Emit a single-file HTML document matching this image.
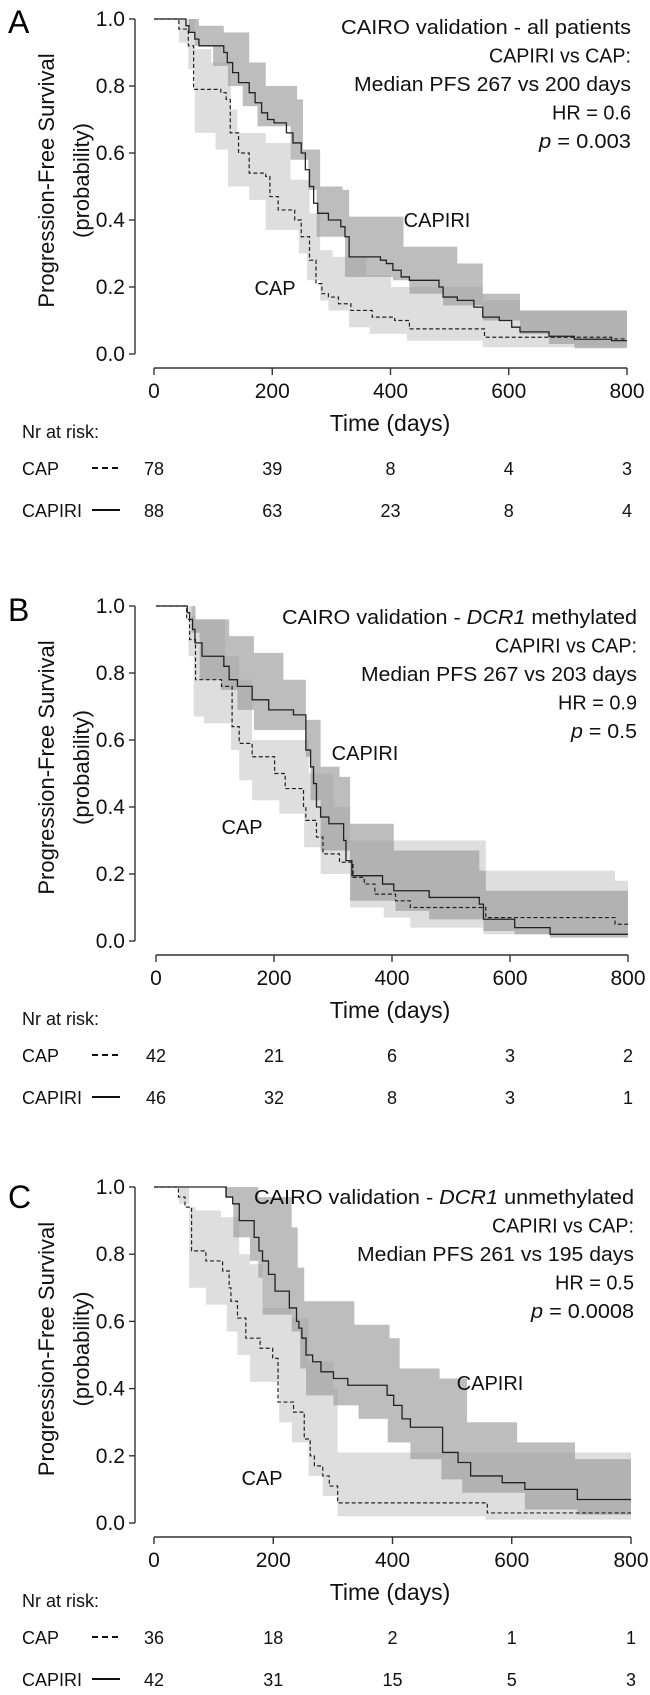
<!DOCTYPE html>
<html><head><meta charset="utf-8"><style>
html,body{margin:0;padding:0;background:#fff;}
svg{display:block;font-family:"Liberation Sans",sans-serif;}
</style></head><body>
<svg id="fig" width="650" height="1695" viewBox="0 0 650 1695" xmlns="http://www.w3.org/2000/svg"></svg>
<script>
// ---------- Panel A data ----------
const aCapiriT=[0,54,59,69,76,118,124,133,143,161,171,182,192,203,224,235,249,256,263,270,277,295,316,323,330,383,393,404,418,432,482,489,513,541,556,584,605,619,668,711,774];
const aCapiriS=[1,.98,.96,.94,.92,.90,.87,.84,.81,.78,.75,.72,.70,.69,.66,.63,.60,.55,.50,.45,.42,.40,.38,.35,.29,.28,.27,.25,.23,.22,.20,.17,.16,.14,.11,.10,.08,.066,.053,.044,.04];
const aCapiriHiT=[0,76,118,161,189,242,252,281,319,330,422,513,556,619];
const aCapiriHi=[1,.98,.96,.87,.80,.76,.61,.50,.49,.41,.32,.27,.18,.13];
const aCapiriLoT=[0,59,69,100,125,150,175,231,261,275,323,404,432,489,556,619,668,711];
const aCapiriLo=[1,.96,.92,.86,.80,.74,.68,.58,.49,.35,.23,.22,.18,.145,.10,.06,.03,.017];
const aCapT=[0,42,58,67,113,122,129,143,161,189,196,210,238,249,263,274,284,295,312,333,369,407,432,559,774];
const aCapS=[1,.97,.92,.79,.78,.76,.66,.60,.54,.53,.47,.43,.40,.35,.28,.21,.18,.17,.15,.13,.11,.10,.075,.05,.045];
const aCapHiT=[0,69,97,130,141,189,231,263,281,302,359,401,556,619];
const aCapHi=[1,.91,.87,.73,.66,.63,.52,.42,.31,.29,.235,.20,.16,.13];
const aCapLoT=[0,42,58,69,104,125,161,189,245,259,281,295,330,365,428,556];
const aCapLo=[1,.93,.85,.66,.61,.50,.46,.37,.30,.22,.16,.13,.08,.06,.04,.02];
const aRiskCap=["78","39","8","4","3"];
const aRiskCapiri=["88","63","23","8","4"];
// ---------- Panel B data ----------
const bCapiriT=[0,53,57,62,66,78,115,124,138,163,191,233,254,262,267,272,279,293,318,322,332,384,403,463,548,555,608,668];
const bCapiriS=[1,.98,.96,.93,.89,.85,.82,.78,.76,.72,.69,.675,.57,.52,.47,.40,.37,.35,.30,.24,.195,.17,.15,.13,.11,.065,.04,.02];
const bCapiriHiT=[0,67,124,166,216,254,279,311,329,403,548,559];
const bCapiriHi=[1,.96,.91,.86,.78,.66,.52,.49,.35,.27,.21,.15];
const bCapiriLoT=[0,60,74,110,138,166,254,262,279,329,406,463,555,608,668];
const bCapiriLo=[1,.92,.78,.75,.69,.63,.55,.42,.27,.12,.09,.065,.03,.02,.01];
const bCapT=[0,52,57,67,111,129,141,163,201,219,250,254,272,283,311,334,353,371,406,431,559,778];
const bCapS=[1,.96,.90,.78,.76,.64,.59,.55,.50,.455,.40,.36,.31,.26,.235,.19,.17,.14,.12,.10,.07,.05];
const bCapHiT=[0,60,67,117,141,163,259,301,329,559,778];
const bCapHi=[1,.97,.96,.85,.78,.60,.50,.40,.30,.21,.18];
const bCapLoT=[0,55,64,81,127,141,163,209,251,279,329,386,431,555];
const bCapLo=[1,.85,.67,.65,.57,.48,.42,.38,.28,.20,.10,.07,.04,.02];
const bRiskCap=["42","21","6","3","2"];
const bRiskCapiri=["46","32","8","3","1"];
// ---------- Panel C data ----------
const cCapiriT=[0,121,132,143,168,176,182,192,203,227,239,243,248,255,266,280,301,325,391,402,416,430,484,510,531,584,622,710];
const cCapiriS=[1,.97,.95,.90,.85,.81,.78,.74,.69,.64,.60,.58,.55,.50,.48,.45,.43,.41,.38,.35,.31,.285,.21,.18,.14,.12,.10,.07];
const cCapiriHiT=[0,175,231,241,252,336,395,412,479,525,609,706];
const cCapiriHi=[1,.97,.88,.76,.66,.59,.55,.46,.43,.30,.24,.19];
const cCapiriLoT=[0,119,133,161,175,182,231,245,255,301,343,392,430,482,517,622,710];
const cCapiriLo=[1,.97,.85,.78,.73,.62,.57,.46,.38,.35,.31,.24,.19,.13,.09,.04,.025];
const cCapT=[0,41,52,63,87,115,126,129,140,154,178,199,208,234,252,262,269,283,294,308,559];
const cCapS=[1,.97,.94,.81,.78,.75,.70,.66,.61,.55,.52,.49,.36,.33,.25,.20,.17,.14,.11,.06,.03];
const cCapHiT=[0,59,70,112,143,161,182,231,259,301,308];
const cCapHi=[1,.94,.93,.91,.80,.77,.64,.61,.48,.40,.21];
const cCapLoT=[0,42,59,87,122,140,161,210,231,259,283,308,556];
const cCapLo=[1,.95,.70,.65,.57,.50,.42,.30,.24,.14,.08,.02,.01];
const cRiskCap=["36","18","2","1","1"];
const cRiskCapiri=["42","31","15","5","3"];

const xTicks=[0,200,400,600,800];
const yTicks=[0,0.2,0.4,0.6,0.8,1.0];
const yTickLabels=["0.0","0.2","0.4","0.6","0.8","1.0"];

const NS="http://www.w3.org/2000/svg";
const svg=document.getElementById('fig');
function mk(tag,attrs,parent){const e=document.createElementNS(NS,tag);for(const k in attrs)e.setAttribute(k,attrs[k]);(parent||svg).appendChild(e);return e;}

function stepPath(T,V,x,y,tEnd){
  let d='M'+x(T[0])+','+y(V[0]);
  for(let i=1;i<T.length;i++){d+=' H'+x(T[i])+' V'+y(V[i]);}
  d+=' H'+x(tEnd);return d;
}
function bandPath(HT,HV,LT,LV,x,y,tEnd){
  let d='M'+x(HT[0])+','+y(HV[0]);
  for(let i=1;i<HT.length;i++){d+=' H'+x(HT[i])+' V'+y(HV[i]);}
  d+=' H'+x(tEnd)+' V'+y(LV[LV.length-1]);
  for(let i=LT.length-1;i>=1;i--){d+=' H'+x(LT[i])+' V'+y(LV[i-1]);}
  d+=' H'+x(LT[0])+' Z';return d;
}

function panel(cfg){
  const g=mk('g',{});
  
  
  const x=t=>cfg.x0+(cfg.x1-cfg.x0)*t/800;
  const y=p=>cfg.y0+(cfg.y1-cfg.y0)*p;
  const b1=mk('path',{d:bandPath(cfg.capHiT,cfg.capHi,cfg.capLoT,cfg.capLo,x,y,800),fill:'#dedede',stroke:'none'},g);
  
  
  const b2=mk('path',{d:bandPath(cfg.capiriHiT,cfg.capiriHi,cfg.capiriLoT,cfg.capiriLo,x,y,800),fill:'#9a9a9a','fill-opacity':'0.65',stroke:'none'},g);
  
  
  const l1=mk('path',{d:stepPath(cfg.capT,cfg.capS,x,y,800),fill:'none',stroke:'#222','stroke-width':'1.2','stroke-dasharray':'4,2.5'},g);
  
  
  const l2=mk('path',{d:stepPath(cfg.capiriT,cfg.capiriS,x,y,800),fill:'none',stroke:'#222','stroke-width':'1.3'},g);
  
  
  const ya=mk('path',{d:'M135,'+y(1)+' V'+y(0),stroke:'#333','stroke-width':'1.4',fill:'none'},g);
  
  
  yTicks.forEach((v,i)=>{
    mk('path',{d:'M129,'+y(v)+' H135',stroke:'#333','stroke-width':'1.4'},g);
    const t=mk('text',{x:125,y:y(v)+7,'text-anchor':'end','font-size':'21',fill:'#111'},g);
    t.textContent=yTickLabels[i];
    
    
  });
  const ax=cfg.y0+14;
  const xa=mk('path',{d:'M'+x(0)+','+ax+' H'+x(800),stroke:'#333','stroke-width':'1.4',fill:'none'},g);
  
  
  xTicks.forEach(v=>{
    mk('path',{d:'M'+x(v)+','+ax+' V'+(ax+7),stroke:'#333','stroke-width':'1.4'},g);
    const t=mk('text',{x:x(v),y:ax+30,'text-anchor':'middle','font-size':'21',fill:'#111'},g);
    t.textContent=String(v);
    
    
  });
  const xt=mk('text',{x:390,y:ax+63,'text-anchor':'middle','font-size':'23',fill:'#111'},g);
  xt.textContent='Time (days)';
  
  
  const cy=(y(0)+y(1))/2-6;
  const yt=mk('text',{transform:'translate(54,'+cy+') rotate(-90)','text-anchor':'middle','font-size':'22',fill:'#111'},g);
  yt.textContent='Progression-Free Survival';
  
  
  const yt2=mk('text',{transform:'translate(89,'+cy+') rotate(-90)','text-anchor':'middle','font-size':'22',fill:'#111'},g);
  yt2.textContent='(probability)';
  
  
  const L=mk('text',{x:8,y:cfg.y1+cfg.letterDy,'font-size':'32',fill:'#000'},g);
  L.textContent=cfg.letter;
  
  
  cfg.ann.forEach((ln,i)=>{
    const t=mk('text',{x:cfg.annX,y:cfg.y1+cfg.annDy+i*28.5,'text-anchor':'end','font-size':'20',fill:'#111',textLength:ln.w,lengthAdjust:'spacingAndGlyphs'},g);
    t.innerHTML=ln.h;
    
    
  });
  const c1=mk('text',{x:cfg.capiriLbl[0],y:cfg.capiriLbl[1]+7,'text-anchor':'middle','font-size':'20',fill:'#111'},g);
  c1.textContent='CAPIRI';
  
  
  const c2=mk('text',{x:cfg.capLbl[0],y:cfg.capLbl[1]+7,'text-anchor':'middle','font-size':'20',fill:'#111'},g);
  c2.textContent='CAP';
  
  
  const nr=mk('text',{x:22,y:ax+70,'font-size':'18',fill:'#111'},g);
  nr.textContent='Nr at risk:';
  
  
  const rows=[['CAP',cfg.riskCap,true,ax+100],['CAPIRI',cfg.riskCapiri,false,ax+142]];
  rows.forEach(r=>{
    const lb=mk('text',{x:22,y:r[3]+7,'font-size':'18',fill:'#111'},g);
    lb.textContent=r[0];
    
    
    const ls=mk('path',{d:'M92,'+(r[3])+' H120',stroke:'#111','stroke-width':'2','stroke-dasharray':r[2]?'6,4':'none'},g);
    
    
    r[1].forEach((v,i)=>{
      const n=mk('text',{x:x(xTicks[i]),y:r[3]+7,'text-anchor':'middle','font-size':'18',fill:'#111'},g);
      n.textContent=v;
      
      
    });
  });
}

panel({letter:'A',x0:154,x1:627,y1:19,y0:354,letterDy:14,annX:631,annDy:15,
  capiriT:aCapiriT,capiriS:aCapiriS,capiriHiT:aCapiriHiT,capiriHi:aCapiriHi,capiriLoT:aCapiriLoT,capiriLo:aCapiriLo,
  capT:aCapT,capS:aCapS,capHiT:aCapHiT,capHi:aCapHi,capLoT:aCapLoT,capLo:aCapLo,
  riskCap:aRiskCap,riskCapiri:aRiskCapiri,capiriLbl:[437,220],capLbl:[275,288],
  ann:[{h:'CAIRO validation - all patients',w:290},{h:'CAPIRI vs CAP:',w:142},{h:'Median PFS 267 vs 200 days',w:277},{h:'HR = 0.6',w:79},{h:'<tspan font-style="italic">p</tspan> = 0.003',w:92}]});
panel({letter:'B',x0:156,x1:628,y1:606,y0:941,letterDy:15,annX:637,annDy:18,
  capiriT:bCapiriT,capiriS:bCapiriS,capiriHiT:bCapiriHiT,capiriHi:bCapiriHi,capiriLoT:bCapiriLoT,capiriLo:bCapiriLo,
  capT:bCapT,capS:bCapS,capHiT:bCapHiT,capHi:bCapHi,capLoT:bCapLoT,capLo:bCapLo,
  riskCap:bRiskCap,riskCapiri:bRiskCapiri,capiriLbl:[365,753],capLbl:[242,827],
  ann:[{h:'CAIRO validation - <tspan font-style="italic">DCR1</tspan> methylated',w:355},{h:'CAPIRI vs CAP:',w:142},{h:'Median PFS 267 vs 203 days',w:276},{h:'HR = 0.9',w:79},{h:'<tspan font-style="italic">p</tspan> = 0.5',w:66}]});
panel({letter:'C',x0:154,x1:631,y1:1187,y0:1523,letterDy:21,annX:634,annDy:17,
  capiriT:cCapiriT,capiriS:cCapiriS,capiriHiT:cCapiriHiT,capiriHi:cCapiriHi,capiriLoT:cCapiriLoT,capiriLo:cCapiriLo,
  capT:cCapT,capS:cCapS,capHiT:cCapHiT,capHi:cCapHi,capLoT:cCapLoT,capLo:cCapLo,
  riskCap:cRiskCap,riskCapiri:cRiskCapiri,capiriLbl:[490,1383],capLbl:[262,1478],
  ann:[{h:'CAIRO validation - <tspan font-style="italic">DCR1</tspan> unmethylated',w:380},{h:'CAPIRI vs CAP:',w:142},{h:'Median PFS 261 vs 195 days',w:277},{h:'HR = 0.5',w:79},{h:'<tspan font-style="italic">p</tspan> = 0.0008',w:103}]});
</script>
</body></html>
